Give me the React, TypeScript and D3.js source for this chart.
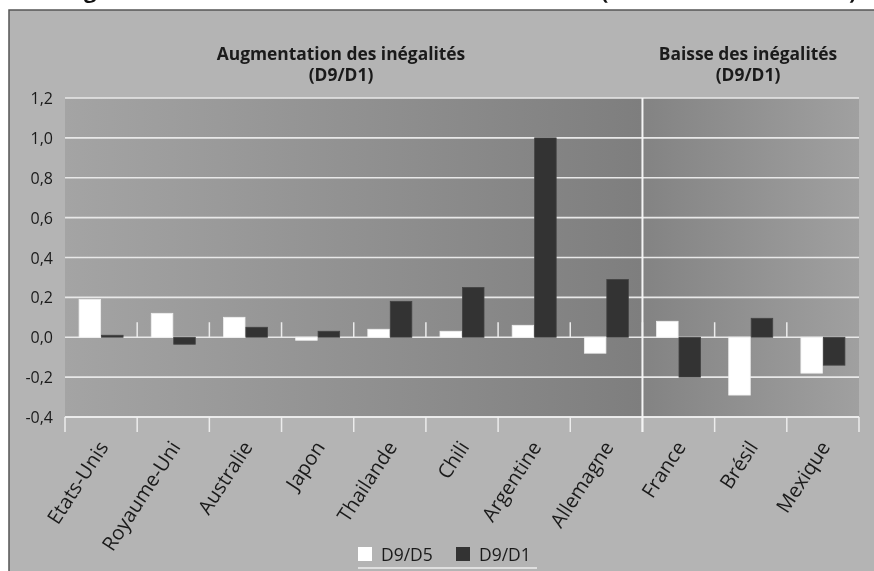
import React from "react";
import * as d3 from "d3";

// Pays (ordre d'affichage) et groupes
const categories = [
  "Etats-Unis",
  "Royaume-Uni",
  "Australie",
  "Japon",
  "Thailande",
  "Chili",
  "Argentine",
  "Allemagne",
  "France",
  "Brésil",
  "Mexique",
];
const series = ["D9/D5", "D9/D1"];
const d9d5 = [0.19, 0.12, 0.1, -0.015, 0.04, 0.03, 0.06, -0.08, 0.08, -0.29, -0.18];
const d9d1 = [0.01, -0.035, 0.05, 0.03, 0.18, 0.25, 1.0, 0.29, -0.2, 0.095, -0.14];
const yTicks = [-0.4, -0.2, 0, 0.2, 0.4, 0.6, 0.8, 1.0, 1.2];
const groupTitles = [
  { lines: ["Augmentation des inégalités", "(D9/D1)"], cx: 341 },
  { lines: ["Baisse des inégalités", "(D9/D1)"], cx: 748 },
];
const splitBefore = "France";

const W = 874;
const H = 571;
const M = { left: 65, right: 859, top: 98, bottom: 417 };
const FONT = "'Open Sans', 'Noto Sans', sans-serif";
const seriesColor: Record<string, string> = { "D9/D5": "#ffffff", "D9/D1": "#333333" };
const seriesStroke: Record<string, string> = { "D9/D5": "#eeeeee", "D9/D1": "#444444" };

export default function App() {
  const x = d3.scaleBand<string>().domain(categories).range([M.left, M.right]).padding(0);
  const bw = x.bandwidth();
  const x1 = d3
    .scaleBand<string>()
    .domain(series)
    .range([bw / 2 - 22, bw / 2 + 22])
    .paddingInner(0.04);
  const y = d3.scaleLinear().domain([-0.4, 1.2]).range([M.bottom, M.top]);
  const fmt = (v: number) => d3.format(".1f")(v).replace(".", ",").replace("−", "-");
  const sepX = x(splitBefore)!;
  const values: Record<string, number[]> = { "D9/D5": d9d5, "D9/D1": d9d1 };
  const boundaries = categories.map((c) => x(c)!).concat([M.right]);

  return (
    <div style={{ position: "fixed", left: 0, top: 0 }}>
      <svg width={W} height={H} style={{ display: "block" }}>
        <defs>
          <linearGradient id="bgL" x1="0" x2="1" y1="0" y2="0">
            <stop offset="0" stopColor="#a4a4a4" />
            <stop offset="1" stopColor="#7e7e7e" />
          </linearGradient>
          <linearGradient id="bgR" x1="0" x2="1" y1="0" y2="0">
            <stop offset="0" stopColor="#838383" />
            <stop offset="1" stopColor="#a0a0a0" />
          </linearGradient>
        </defs>
        <rect x={0} y={0} width={W} height={H} fill="#ffffff" />
        <rect x={9} y={10} width={W} height={H} fill="#b4b4b4" stroke="#555555" strokeWidth={1.5} />

        {/* ligne de titre tronquée en haut */}
        <g fontFamily={FONT} fontWeight={700} fontSize={22} fill="#111">
          <text x={84} y={-2.5}>g</text>
          <text x={601} y={-1.5}>(</text>
          <text x={849} y={-1.5}>)</text>
        </g>

        {/* zone de tracé */}
        <rect x={M.left} y={M.top} width={sepX - M.left} height={M.bottom - M.top} fill="url(#bgL)" />
        <rect x={sepX} y={M.top} width={M.right - sepX} height={M.bottom - M.top} fill="url(#bgR)" />

        {/* grille */}
        {yTicks.map((t) => (
          <line
            key={t}
            x1={M.left}
            x2={M.right}
            y1={y(t)}
            y2={y(t)}
            stroke="#e8e8e8"
            strokeWidth={1.6}
          />
        ))}

        {/* graduations au niveau zéro */}
        {boundaries.slice(1, -1).map((bx, i) => (
          <line key={i} x1={bx} x2={bx} y1={y(0)} y2={y(0) - 15} stroke="#ececec" strokeWidth={1.5} />
        ))}
        {/* graduations de l'axe bas */}
        {boundaries.map((bx, i) => (
          <line key={i} x1={bx} x2={bx} y1={M.bottom} y2={M.bottom + 15} stroke="#ececec" strokeWidth={1.5} />
        ))}
        <line x1={M.left} x2={M.right} y1={M.bottom} y2={M.bottom} stroke="#f2f2f2" strokeWidth={1.6} />

        {/* barres */}
        {categories.map((c, i) => (
          <g key={c} transform={`translate(${x(c)},0)`}>
            {series.map((s) => {
              const v = values[s][i];
              const y0 = y(Math.max(0, v));
              const h = Math.abs(y(v) - y(0));
              return (
                <rect
                  key={s}
                  x={x1(s)}
                  y={y0}
                  width={x1.bandwidth()}
                  height={h}
                  fill={seriesColor[s]}
                  stroke={seriesStroke[s]}
                  strokeWidth={0.8}
                />
              );
            })}
          </g>
        ))}

        {/* séparateur */}
        <line x1={sepX} x2={sepX} y1={M.top} y2={M.bottom + 15} stroke="#f4f4f4" strokeWidth={2} />

        {/* étiquettes de l'axe Y */}
        <g fontFamily={FONT} fontSize={16} fill="#1a1a1a" textAnchor="end">
          {yTicks.map((t) => (
            <text key={t} x={53} y={y(t) + 6}>
              {fmt(t)}
            </text>
          ))}
        </g>

        {/* étiquettes des pays */}
        <g fontFamily={FONT} fontSize={20} fill="#1a1a1a" textAnchor="end">
          {categories.map((c) => {
            const cx = x(c)! + bw / 2 + 8;
            const cy = M.bottom + 30;
            return (
              <text key={c} transform={`translate(${cx},${cy}) rotate(-57)`}>
                {c}
              </text>
            );
          })}
        </g>

        {/* titres des groupes */}
        <g fontFamily={FONT} fontWeight={700} fontSize={17.4} fill="#1a1a1a" textAnchor="middle">
          {groupTitles.map((g, gi) =>
            g.lines.map((l, li) => (
              <text key={gi + "-" + li} x={g.cx} y={60 + li * 21}>
                {l}
              </text>
            ))
          )}
        </g>

        {/* légende */}
        <g fontFamily={FONT} fontSize={17.5} fill="#1a1a1a">
          {series.map((s, i) => {
            const lx = 358 + i * 98;
            return (
              <g key={s}>
                <rect x={lx} y={547} width={14} height={14} fill={seriesColor[s]} />
                <text x={lx + 23} y={561}>
                  {s}
                </text>
              </g>
            );
          })}
          <line x1={358} x2={537} y1={568} y2={568} stroke="#eeeeee" strokeWidth={1.5} />
        </g>
      </svg>
    </div>
  );
}
